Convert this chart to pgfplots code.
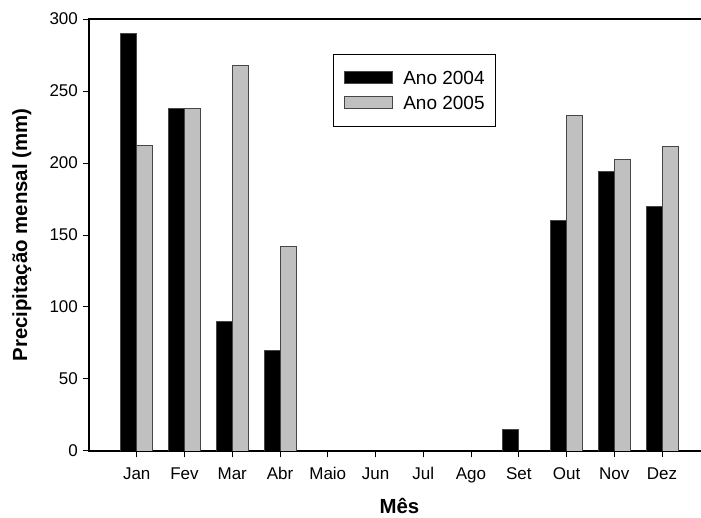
\documentclass[border=0pt]{standalone}
\usepackage{fontspec}
\setmainfont{Liberation Sans}
\usepackage{pgfplots}
\pgfplotsset{compat=1.18}
\definecolor{barGray}{RGB}{192,192,192}
\definecolor{edgeGray}{RGB}{70,70,70}

\begin{document}
\begin{tikzpicture}[x=1pt,y=1pt]
% page area
\useasboundingbox (-66.75,-50.25) rectangle (459,338.25);
\begin{axis}[
  at={(0,0)}, anchor=south west,
  scale only axis, width=465.6pt, height=324pt,
  xmin=0, xmax=13, ymin=0, ymax=300,
  ybar, bar width=12pt,
  xtick={1,...,12},
  xticklabels={Jan,Fev,Mar,Abr,Maio,Jun,Jul,Ago,Set,Out,Nov,Dez},
  ytick={0,50,...,300},
  tick pos=left, tick align=outside,
  major tick length=4.8pt,
  tick style={line width=0.75pt, black},
  axis line style={line width=1pt},
  /pgf/number format/assume math mode=true,
  ticklabel style={font=\fontsize{12.75}{14}\selectfont},
  xticklabel style={yshift=-3.5pt, text height=9.3pt, text depth=0pt},
  xlabel={\bfseries Mês},
  ylabel={\bfseries Precipitação mensal (mm)},
  every axis x label/.style={at={(axis description cs:0.5,-0.127)}, anchor=center,
    font=\fontsize{15.3}{17}\selectfont},
  every axis y label/.style={at={(axis description cs:-0.1082,0.5)}, rotate=90, anchor=center,
    font=\fontsize{15.3}{17}\selectfont},
  legend style={
    at={(axis description cs:0.3925,0.919)}, anchor=north west,
    draw=black, line width=0.75pt,
    font=\fontsize{14.25}{14.25}\selectfont,
    inner xsep=8.5pt, inner ysep=12.5pt,
    row sep=8.75pt,
    nodes={inner sep=0pt, text height=10pt, text depth=0pt},
    /tikz/every odd column/.append style={column sep=7.5pt},
  },
  legend cell align=left,
  legend image code/.code={\draw[#1, line width=0.6pt] (0pt,-4.5pt) rectangle (36pt,4.5pt);},
]
\addplot[bar shift=-6pt, fill=black, draw=edgeGray, line width=0.6pt]
  coordinates {(1,290) (2,238) (3,90) (4,70) (9,15) (10,160) (11,194) (12,170)};
\addlegendentry{Ano 2004\hspace{10.25pt}}
\addplot[bar shift=6pt, fill=barGray, draw=edgeGray, line width=0.6pt]
  coordinates {(1,212) (2,238) (3,268) (4,142) (10,233) (11,202.5) (12,211.5)};
\addlegendentry{Ano 2005\hspace{10.25pt}}
\end{axis}
\end{tikzpicture}
\end{document}
